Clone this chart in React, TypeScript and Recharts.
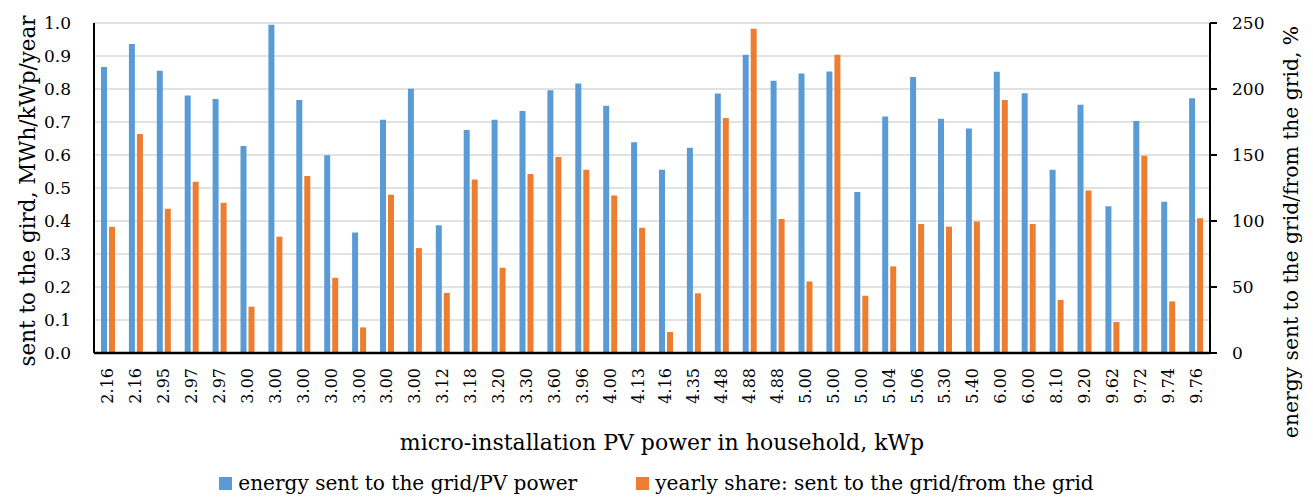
import { Bar, BarChart, CartesianGrid, Label, Legend, XAxis, YAxis } from "recharts";

const POWER_KWP = [
  "2.16", "2.16", "2.95", "2.97", "2.97", "3.00", "3.00", "3.00", "3.00", "3.00",
  "3.00", "3.00", "3.12", "3.18", "3.20", "3.30", "3.60", "3.96", "4.00", "4.13",
  "4.16", "4.35", "4.48", "4.88", "4.88", "5.00", "5.00", "5.00", "5.04", "5.06",
  "5.30", "5.40", "6.00", "6.00", "8.10", "9.20", "9.62", "9.72", "9.74", "9.76",
];

// energy sent to the grid / PV power, MWh/kWp/year (left axis)
const SENT_PER_KWP = [
  0.867, 0.936, 0.855, 0.78, 0.77, 0.627, 0.995, 0.767, 0.599, 0.365,
  0.707, 0.801, 0.387, 0.676, 0.707, 0.733, 0.796, 0.817, 0.749, 0.639,
  0.555, 0.622, 0.786, 0.904, 0.825, 0.847, 0.853, 0.488, 0.717, 0.836,
  0.71, 0.68, 0.852, 0.787, 0.555, 0.752, 0.445, 0.703, 0.458, 0.772,
];

// yearly share sent to / taken from the grid, % (right axis)
const SHARE_PCT = [
  95.5, 165.9, 109.3, 129.8, 113.9, 35.1, 88.1, 134.1, 57.0, 19.4,
  119.9, 79.5, 45.5, 131.5, 64.6, 135.6, 148.5, 138.9, 119.4, 94.9,
  15.9, 45.2, 178, 245.7, 101.5, 54.2, 226, 43.4, 65.6, 97.7,
  95.7, 99.7, 191.7, 97.7, 40.2, 123.2, 23.5, 149.5, 39.1, 102,
];

const LEFT_TICKS = [0, 0.1, 0.2, 0.3, 0.4, 0.5, 0.6, 0.7, 0.8, 0.9, 1.0];
const RIGHT_TICKS = [0, 50, 100, 150, 200, 250];

const SERIES_NAMES = ["energy sent to the grid/PV power", "yearly share: sent to the grid/from the grid"];

const BLUE = "#5B9BD5";
const ORANGE = "#ED7D31";
const FONT = "'DejaVu Serif', serif";
const INK = "#000";

const data = POWER_KWP.map((p, i) => ({ p, sent: SENT_PER_KWP[i], share: SHARE_PCT[i] }));

function PowerTick({ x, y, payload }: any) {
  const ty = y + 13;
  return (
    <text
      x={x}
      y={ty}
      transform={`rotate(-90, ${x}, ${ty})`}
      textAnchor="end"
      dominantBaseline="central"
      fontFamily={FONT}
      fontSize={16}
      fill={INK}
    >
      {payload.value}
    </text>
  );
}

/** Axis title placed from the axis viewBox centre, shifted by dx/dy. */
function AxisTitle({ viewBox, text, dx = 0, dy = 0, angle = 0, size = 20 }: any) {
  const cx = viewBox.x + viewBox.width / 2 + dx;
  const cy = viewBox.y + viewBox.height / 2 + dy;
  return (
    <text
      x={cx}
      y={cy}
      transform={angle ? `rotate(${angle}, ${cx}, ${cy})` : undefined}
      textAnchor="middle"
      dominantBaseline="central"
      fontFamily={FONT}
      fontSize={size}
      fill={INK}
    >
      {text}
    </text>
  );
}

function SeriesLegend() {
  const colors = [BLUE, ORANGE];
  return (
    <div
      style={{
        display: "flex",
        justifyContent: "center",
        gap: 59,
        fontFamily: FONT,
        fontSize: 20.1,
        color: INK,
        height: 30,
        alignItems: "center",
      }}
    >
      {SERIES_NAMES.map((name, i) => (
        <div key={name} style={{ display: "flex", alignItems: "center", gap: 6 }}>
          <span style={{ width: 13, height: 13, background: colors[i], display: "inline-block" }} />
          <span>{name}</span>
        </div>
      ))}
    </div>
  );
}

export default function App() {
  return (
    <div style={{ position: "absolute", left: 0, top: 0, width: 1313, height: 498, background: "#fff" }}>
      <BarChart
        width={1313}
        height={498}
        data={data}
        margin={{ top: 23, right: 0, bottom: 0, left: 0 }}
        barSize={6}
        barGap={2}
      >
        <CartesianGrid yAxisId="left" vertical={false} stroke="#d9d9d9" strokeWidth={1.5} />
        <XAxis
          dataKey="p"
          interval={0}
          height={115}
          tick={<PowerTick />}
          tickLine={false}
          tickSize={0}
          axisLine={{ stroke: INK, strokeWidth: 2.5 }}
        >
          <Label content={(props: any) => <AxisTitle {...props} text="micro-installation PV power in household, kWp" dx={10} dy={32} size={22} />} />
        </XAxis>
        <YAxis
          yAxisId="left"
          domain={[0, 1]}
          ticks={LEFT_TICKS}
          tickFormatter={(v: number) => v.toFixed(1)}
          width={94}
          tickLine={false}
          tickSize={6}
          tickMargin={17}
          axisLine={{ stroke: INK, strokeWidth: 2 }}
          tick={{ fontFamily: FONT, fontSize: 17, fill: INK }}
        >
          <Label content={(props: any) => <AxisTitle {...props} text="sent to the gird, MWh/kWp/year" dx={-20} dy={3} angle={-90} size={21.5} />} />
        </YAxis>
        <YAxis
          yAxisId="right"
          orientation="right"
          domain={[0, 250]}
          ticks={RIGHT_TICKS}
          width={103}
          tickSize={7}
          tickMargin={15}
          tickLine={{ stroke: INK, strokeWidth: 2 }}
          axisLine={{ stroke: INK, strokeWidth: 2 }}
          tick={{ fontFamily: FONT, fontSize: 17, fill: INK, textAnchor: "start" }}
        >
          <Label content={(props: any) => <AxisTitle {...props} text="energy sent to the grid/from the grid, %" dx={29.5} dy={44} angle={-90} size={20.3} />} />
        </YAxis>
        <Legend content={<SeriesLegend />} verticalAlign="bottom" wrapperStyle={{ left: 0, width: 1313 }} />
        <Bar yAxisId="left" dataKey="sent" name={SERIES_NAMES[0]} fill={BLUE} isAnimationActive={false} />
        <Bar yAxisId="right" dataKey="share" name={SERIES_NAMES[1]} fill={ORANGE} isAnimationActive={false} />
      </BarChart>
    </div>
  );
}
